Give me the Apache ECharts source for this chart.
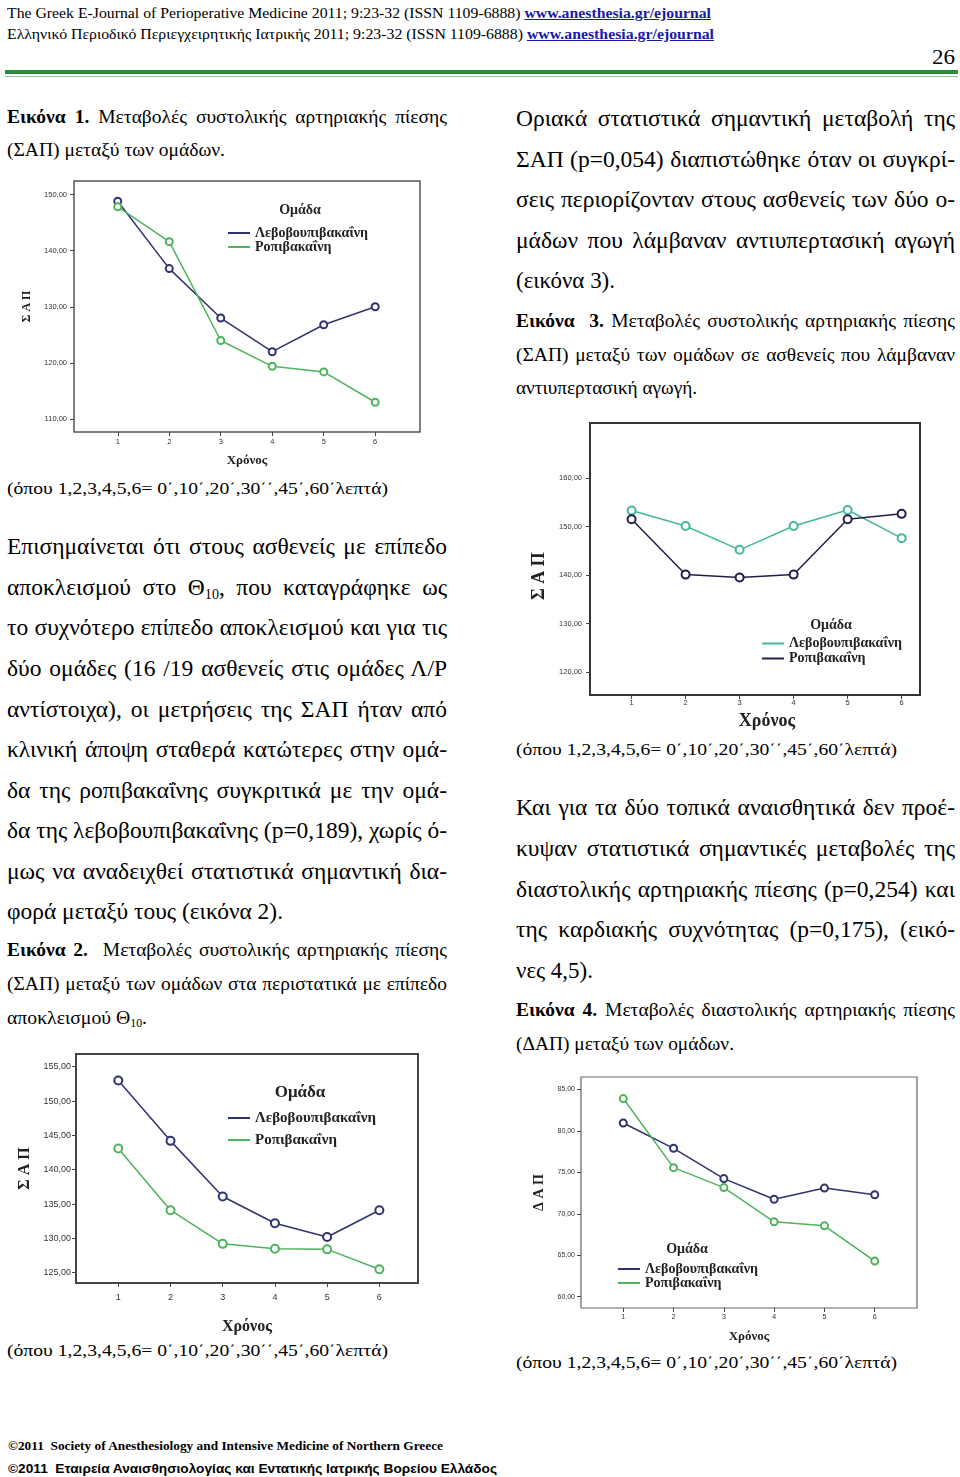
<!DOCTYPE html>
<html><head><meta charset="utf-8">
<script src="https://cdn.jsdelivr.net/npm/echarts@6/dist/echarts.min.js"></script>
<style>
html,body{margin:0;padding:0;background:#fff;}
#page{position:relative;width:960px;height:1477px;overflow:hidden;background:#fff;}
.ln{position:absolute;white-space:nowrap;font-family:"Liberation Serif","Times New Roman",serif;color:#000;}
.ln sub{font-size:0.6em;vertical-align:-0.25em;line-height:0;}
.lnk{color:#1a1aa8;font-weight:bold;text-decoration:underline;}
.ch{position:absolute;}
</style></head>
<body><div id="page"></div>
<script>
// ---------------- chart data ----------------
const timePoints = [1, 2, 3, 4, 5, 6];
const groupLevo = 'Λεβοβουπιβακαΐνη';
const groupRopi = 'Ροπιβακαΐνη';

// Εικόνα 1 – ΣΑΠ
const fig1Levo = [148.8, 136.8, 128.0, 122.0, 126.8, 130.0];
const fig1Ropi = [147.8, 141.6, 124.0, 119.4, 118.4, 113.0];
const fig1YTicks = [110, 120, 130, 140, 150];

// Εικόνα 3 – ΣΑΠ, αντιυπερτασική αγωγή
const fig3Levo = [153.3, 150.1, 145.2, 150.1, 153.4, 147.6];
const fig3Ropi = [151.5, 140.1, 139.5, 140.1, 151.5, 152.6];
const fig3YTicks = [120, 130, 140, 150, 160];

// Εικόνα 2 – ΣΑΠ, επίπεδο Θ10
const fig2Levo = [153.0, 144.2, 136.1, 132.2, 130.2, 134.1];
const fig2Ropi = [143.1, 134.1, 129.2, 128.5, 128.4, 125.5];
const fig2YTicks = [125, 130, 135, 140, 145, 150, 155];

// Εικόνα 4 – ΔΑΠ
const fig4Levo = [80.95, 77.9, 74.25, 71.76, 73.1, 72.3];
const fig4Ropi = [83.9, 75.57, 73.16, 69.03, 68.55, 64.3];
const fig4YTicks = [60, 65, 70, 75, 80, 85];

// ---------------- page text ----------------
const NOTE = '(όπου 1,2,3,4,5,6= 0΄,10΄,20΄,30΄΄,45΄,60΄λεπτά)';
const LINK = '<span class="lnk">www.anesthesia.gr/ejournal</span>';
const BODY = 23.5, CAP = 19.5;
// [left, centerY, width, fontSize, mode(j=justify,f=fit), html, extraStyle]
const lines = [
 [7, 13, 704, 15, 'f', 'The Greek E-Journal of Perioperative Medicine 2011; 9:23-32 (ISSN 1109-6888) ' + LINK],
 [7, 34, 707, 15, 'f', 'Ελληνικό Περιοδικό Περιεγχειρητικής Ιατρικής 2011; 9:23-32 (ISSN 1109-6888) ' + LINK],
 [932, 57, 23, 20, 'f', '26'],
 [7, 117, 440, CAP, 'j', '<b>Εικόνα 1.</b> Μεταβολές συστολικής αρτηριακής πίεσης'],
 [7, 150, 218, CAP, 'f', '(ΣΑΠ) μεταξύ των ομάδων.'],
 [7, 490, 381, 17, 'f', NOTE],
 [7, 547, 440, BODY, 'j', 'Επισημαίνεται ότι στους ασθενείς με επίπεδο'],
 [7, 588, 440, BODY, 'j', 'αποκλεισμού στο Θ<sub>10</sub>, που καταγράφηκε ως'],
 [7, 628, 440, BODY, 'j', 'το συχνότερο επίπεδο αποκλεισμού και για τις'],
 [7, 669, 440, BODY, 'j', 'δύο ομάδες (16 /19 ασθενείς στις ομάδες Λ/Ρ'],
 [7, 710, 440, BODY, 'j', 'αντίστοιχα), οι μετρήσεις της ΣΑΠ ήταν από'],
 [7, 750, 440, BODY, 'j', 'κλινική άποψη σταθερά κατώτερες στην ομά-'],
 [7, 791, 440, BODY, 'j', 'δα της ροπιβακαΐνης συγκριτικά με την ομά-'],
 [7, 831, 440, BODY, 'j', 'δα της λεβοβουπιβακαΐνης (p=0,189), χωρίς ό-'],
 [7, 872, 440, BODY, 'j', 'μως να αναδειχθεί στατιστικά σημαντική δια-'],
 [7, 912, 276, BODY, 'f', 'φορά μεταξύ τους (εικόνα 2).'],
 [7, 950, 440, CAP, 'j', '<b>Εικόνα 2.</b>&nbsp; Μεταβολές συστολικής αρτηριακής πίεσης'],
 [7, 984, 440, CAP, 'j', '(ΣΑΠ) μεταξύ των ομάδων στα περιστατικά με επίπεδο'],
 [7, 1018, 140, CAP, 'f', 'αποκλεισμού Θ<sub>10</sub>.'],
 [7, 1352, 381, 17, 'f', NOTE],
 [516, 119, 439, BODY, 'j', 'Οριακά στατιστικά σημαντική μεταβολή της'],
 [516, 160, 439, BODY, 'j', 'ΣΑΠ (p=0,054) διαπιστώθηκε όταν οι συγκρί-'],
 [516, 200, 439, BODY, 'j', 'σεις περιορίζονταν στους ασθενείς των δύο ο-'],
 [516, 241, 439, BODY, 'j', 'μάδων που λάμβαναν αντιυπερτασική αγωγή'],
 [516, 281, 99, BODY, 'f', '(εικόνα 3).'],
 [516, 321, 439, CAP, 'j', '<b>Εικόνα</b>&nbsp; <b>3.</b> Μεταβολές συστολικής αρτηριακής πίεσης'],
 [516, 355, 439, CAP, 'j', '(ΣΑΠ) μεταξύ των ομάδων σε ασθενείς που λάμβαναν'],
 [516, 388, 181, CAP, 'f', 'αντιυπερτασική αγωγή.'],
 [516, 751, 381, 17, 'f', NOTE],
 [516, 808, 439, BODY, 'j', 'Και για τα δύο τοπικά αναισθητικά δεν προέ-'],
 [516, 849, 439, BODY, 'j', 'κυψαν στατιστικά σημαντικές μεταβολές της'],
 [516, 890, 439, BODY, 'j', 'διαστολικής αρτηριακής πίεσης (p=0,254) και'],
 [516, 930, 439, BODY, 'j', 'της καρδιακής συχνότητας (p=0,175), (εικό-'],
 [516, 971, 77, BODY, 'f', 'νες 4,5).'],
 [516, 1010, 439, CAP, 'j', '<b>Εικόνα 4.</b> Μεταβολές διαστολικής αρτηριακής πίεσης'],
 [516, 1044, 218, CAP, 'f', '(ΔΑΠ) μεταξύ των ομάδων.'],
 [516, 1364, 381, 17, 'f', NOTE],
 [8, 1446, 435, 13, 'f', '<b>©2011&nbsp; Society of Anesthesiology and Intensive Medicine of Northern Greece</b>'],
 [8, 1469, 489, 13, 'f', '<b>©2011&nbsp; Εταιρεία Αναισθησιολογίας και Εντατικής Ιατρικής Βορείου Ελλάδος</b>', 'font-family:"Liberation Sans",Arial,sans-serif;']
];

const page = document.getElementById('page');
lines.forEach(function (l) {
  const d = document.createElement('div');
  d.className = 'ln';
  d.style.left = l[0] + 'px';
  d.style.top = (l[1] - 0.62 * l[3]) + 'px';
  d.style.fontSize = l[3] + 'px';
  d.style.lineHeight = (1.2 * l[3]) + 'px';
  if (l[6]) d.style.cssText += l[6];
  d.dataset.w = l[2];
  d.dataset.m = l[4];
  d.innerHTML = '<span>' + l[5] + '</span>';
  page.appendChild(d);
});
document.querySelectorAll('.ln').forEach(function (d) {
  const s = d.firstElementChild;
  const W = +d.dataset.w;
  const w = s.getBoundingClientRect().width;
  if (d.dataset.m === 'j' && w <= W) {
    d.style.whiteSpace = 'normal';
    d.style.width = W + 'px';
    d.style.textAlign = 'justify';
    d.style.textAlignLast = 'justify';
  } else {
    s.style.display = 'inline-block';
    s.style.transformOrigin = '0 50%';
    s.style.transform = 'scaleX(' + (W / w) + ')';
  }
});

// green rule
[[70, 4, '#2b8a3c'], [75.5, 1.5, '#8cc28e']].forEach(function (r) {
  const d = document.createElement('div');
  d.style.cssText = 'position:absolute;left:5px;width:953px;top:' + r[0] + 'px;height:' + r[1] + 'px;background:' + r[2] + ';';
  page.appendChild(d);
});

// ---------------- charts ----------------
function pts(vals) { return timePoints.map(function (t, i) { return [t, vals[i]]; }); }
function fmt(v) { return v.toFixed(2).replace('.', ','); }

function buildOption(c) {
  const series = c.series.map(function (s) {
    return {
      type: 'line', name: s.name, data: pts(s.data),
      symbol: 'emptyCircle', symbolSize: c.symbolSize,
      lineStyle: { color: s.color, width: 1.5 },
      itemStyle: { color: s.color, borderWidth: 1.2 },
      emphasis: { disabled: true }, z: 3
    };
  });
  return {
    animation: false,
    grid: { left: c.grid[0], top: c.grid[1], width: c.grid[2], height: c.grid[3], show: true,
      backgroundColor: '#fff', borderColor: c.frameColor, borderWidth: c.frameWidth },
    xAxis: {
      type: 'value', min: c.xMin, max: c.xMax,
      axisLine: { show: false }, splitLine: { show: false },
      axisTick: { show: true, customValues: timePoints, length: 4, lineStyle: { color: '#444' } },
      axisLabel: { customValues: timePoints, fontSize: c.tickFont, color: '#333', margin: c.xLabelMargin,
        fontFamily: '"Liberation Sans", Arial, sans-serif' },
      name: 'Χρόνος', nameLocation: 'middle', nameGap: c.xNameGap,
      nameTextStyle: { fontFamily: '"Liberation Serif", serif', fontWeight: 'bold', fontSize: c.xNameSize,
        color: '#222', padding: c.xNamePad || 0 }
    },
    yAxis: {
      type: 'value', min: c.yMin, max: c.yMax,
      axisLine: { show: false }, splitLine: { show: false },
      axisTick: { show: true, customValues: c.yTicks, length: 4, lineStyle: { color: '#444' } },
      axisLabel: { customValues: c.yTicks, formatter: fmt, fontSize: c.tickFont, color: '#333',
        margin: c.yLabelMargin, fontFamily: '"Liberation Sans", Arial, sans-serif' },
      name: c.yName, nameLocation: 'middle', nameGap: c.yNameGap,
      nameTextStyle: { fontFamily: '"Liberation Serif", serif', fontWeight: 'bold', fontSize: c.yNameSize,
        color: '#222', padding: c.yNamePad || 0 }
    },
    legend: {
      orient: 'vertical', left: c.legendLeft, top: c.legendTop, padding: 0, itemGap: 0,
      icon: 'rect', itemWidth: 22, itemHeight: 2, selectedMode: false,
      textStyle: { fontFamily: '"Liberation Serif", serif', fontWeight: 'bold', fontSize: c.legendFont,
        lineHeight: c.legendLH, color: '#222' },
      data: c.series.map(function (s) { return { name: s.name, itemStyle: { color: s.color } }; })
    },
    graphic: [{
      type: 'text', x: c.groupTitle[0], y: c.groupTitle[1], silent: true,
      style: { text: 'Ομάδα', font: 'bold ' + c.groupTitle[2] + 'px "Liberation Serif", serif', fill: '#222',
        align: 'center', verticalAlign: 'middle', textAlign: 'center', textVerticalAlign: 'middle' }
    }],
    series: series
  };
}

const NAVY = '#2f3470', GREEN = '#4fb35c';
const charts = [
  { box: [0, 170, 440, 305], grid: [74, 11, 346, 251], xMin: 0.15, xMax: 6.87, yMin: 107.7, yMax: 152.4,
    yTicks: fig1YTicks, yName: 'Σ Α Π', yNameSize: 12, yNameGap: 38, xNameSize: 13, xNameGap: 22,
    tickFont: 7.5, xLabelMargin: 6, yLabelMargin: 7, frameColor: '#555', frameWidth: 1.5, symbolSize: 7,
    legendLeft: 228, legendTop: 56, legendFont: 14, legendLH: 14, groupTitle: [300, 40, 14],
    series: [{ name: groupLevo, data: fig1Levo, color: NAVY }, { name: groupRopi, data: fig1Ropi, color: GREEN }] },
  { box: [510, 415, 440, 320], grid: [80, 8, 330, 274], xMin: 0.23, xMax: 6.34, yMin: 115.3, yMax: 171.3,
    yTicks: fig3YTicks, yName: 'Σ Α Π', yNameSize: 18, yNameGap: 36, yNamePad: [0, 34, 0, 0],
    xNameSize: 18, xNameGap: 11, xNamePad: [0, 0, 0, 24],
    tickFont: 7.5, xLabelMargin: 4, yLabelMargin: 8, frameColor: '#333', frameWidth: 2, symbolSize: 8,
    legendLeft: 252, legendTop: 221, legendFont: 14, legendLH: 15, groupTitle: [321, 210, 14],
    series: [{ name: groupLevo, data: fig3Levo, color: '#45b89b' }, { name: groupRopi, data: fig3Ropi, color: '#231f4d' }] },
  { box: [0, 1045, 440, 300], grid: [76, 9, 342, 229], xMin: 0.19, xMax: 6.74, yMin: 123.5, yMax: 156.85,
    yTicks: fig2YTicks, yName: 'Σ Α Π', yNameSize: 16, yNameGap: 38, xNameSize: 16, xNameGap: 36,
    tickFont: 9, xLabelMargin: 10, yLabelMargin: 5, frameColor: '#444', frameWidth: 2, symbolSize: 8,
    legendLeft: 228, legendTop: 62, legendFont: 15, legendLH: 22, groupTitle: [300, 48, 17],
    series: [{ name: groupLevo, data: fig2Levo, color: NAVY }, { name: groupRopi, data: fig2Ropi, color: GREEN }] },
  { box: [510, 1068, 440, 280], grid: [71, 9, 336, 231], xMin: 0.16, xMax: 6.84, yMin: 58.64, yMax: 86.5,
    yTicks: fig4YTicks, yName: 'Δ Α Π', yNameSize: 14, yNameGap: 29, xNameSize: 13, xNameGap: 22,
    tickFont: 7, xLabelMargin: 6, yLabelMargin: 6, frameColor: '#666', frameWidth: 1.2, symbolSize: 7,
    legendLeft: 108, legendTop: 194, legendFont: 14, legendLH: 14, groupTitle: [177, 181, 14],
    series: [{ name: groupLevo, data: fig4Levo, color: NAVY }, { name: groupRopi, data: fig4Ropi, color: GREEN }] }
];

charts.forEach(function (c) {
  const el = document.createElement('div');
  el.className = 'ch';
  el.style.left = c.box[0] + 'px'; el.style.top = c.box[1] + 'px';
  el.style.width = c.box[2] + 'px'; el.style.height = c.box[3] + 'px';
  page.appendChild(el);
  const chart = echarts.init(el, null, { renderer: 'canvas' });
  chart.setOption(buildOption(c));
});
</script>
</body></html>
